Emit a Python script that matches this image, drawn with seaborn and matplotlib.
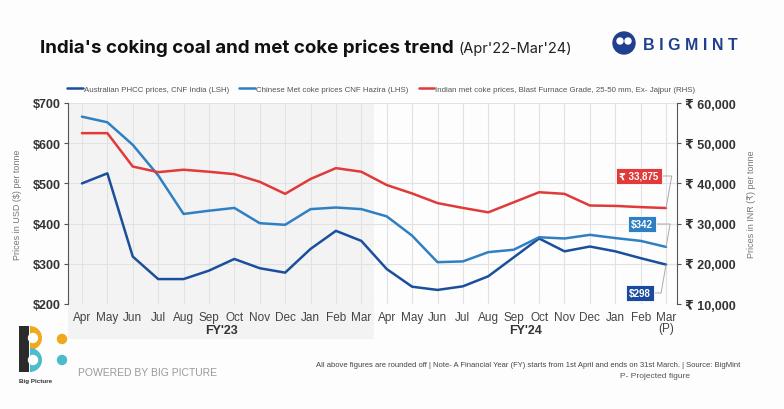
import matplotlib
matplotlib.use("Agg")
import matplotlib.pyplot as plt
import seaborn as sns
import pandas as pd
from matplotlib.patches import Rectangle, Circle, Wedge

months = ["Apr", "May", "Jun", "Jul", "Aug", "Sep", "Oct", "Nov", "Dec", "Jan", "Feb", "Mar"] * 2
month_labels = months[:-1] + ["Mar\n(P)"]

# USD per tonne (left axis)
aus_phcc = [500, 525, 318, 262, 262, 283, 312, 289, 278, 337, 382, 357,
            287, 243, 235, 244, 269, 316, 363, 331, 343, 331, 314, 298]
china_coke = [666, 652, 596, 520, 424, 432, 439, 401, 397, 436, 440, 436,
              418, 370, 304, 306, 329, 335, 366, 363, 372, 364, 357, 342]
# INR per tonne (right axis)
india_coke = [52500, 52500, 44200, 42800, 43400, 42900, 42300, 40400, 37400, 41100, 43800, 42900,
              39600, 37500, 35100, 33900, 32800, 35300, 37800, 37400, 34500, 34400, 34100, 33875]

c_aus = "#1b4f9c"
c_chn = "#2f80c3"
c_ind = "#e03a3a"

df = pd.DataFrame({"idx": range(24), "aus": aus_phcc, "chn": china_coke, "ind": india_coke})

sns.set_style("white")
plt.rcParams["font.family"] = ["Liberation Sans", "DejaVu Sans"]

W, H = 784, 410
fig = plt.figure(figsize=(W / 100, H / 100), dpi=100)
fig.patch.set_facecolor("#fdfdfd")

def fx(px):
    return px / W

def fy(py):
    return 1 - py / H

# overlay in pixel units (for shading and logos)
ov = fig.add_axes([0, 0, 1, 1], zorder=-5)
ov.set_xlim(0, W)
ov.set_ylim(H, 0)
ov.axis("off")
ov.add_patch(Rectangle((68, 104), 374 - 68, 340 - 104, color="#f3f3f3", lw=0))

ax = fig.add_axes([fx(68), fy(305), fx(677) - fx(68), fy(104) - fy(305)])
ax.patch.set_alpha(0)
ax2 = ax.twinx()
ax2.patch.set_alpha(0)

sns.lineplot(data=df, x="idx", y="aus", ax=ax, color=c_aus, lw=1.8, label="Australian PHCC prices, CNF India (LSH)", legend=False)
sns.lineplot(data=df, x="idx", y="chn", ax=ax, color=c_chn, lw=1.8, label="Chinese Met coke prices CNF Hazira (LHS)", legend=False)
sns.lineplot(data=df, x="idx", y="ind", ax=ax2, color=c_ind, lw=1.8, label="Indian met coke prices, Blast Furnace Grade, 25-50 mm, Ex- Jajpur (RHS)", legend=False)

ax.set_xlim(-0.55, 23.43)
ax.set_ylim(200, 700)
ax2.set_ylim(10000, 60000)

ax.set_yticks(range(200, 701, 100))
ax.set_yticklabels([f"${v}" for v in range(200, 701, 100)], fontsize=9, fontweight="bold", color="#333333")
ax2.set_yticks(range(10000, 60001, 10000))
ax2.set_yticklabels([f"₹ {v:,}" for v in range(10000, 60001, 10000)], fontsize=9, fontweight="bold", color="#333333")
ax.set_xticks(range(24))
ax.set_xticklabels(month_labels, fontsize=8.5, color="#444444", linespacing=0.95)
ax.tick_params(axis="x", length=0, pad=5)
ax.tick_params(axis="y", length=3, color="#555555", pad=2)
ax2.tick_params(axis="y", length=3, color="#555555", pad=3)

ax.grid(True, color="#e2e2e2", lw=0.8)
ax.set_axisbelow(True)
ax.set_xlabel("")
ax.set_ylabel("Prices in USD ($) per tonne", fontsize=6.5, color="#777777", labelpad=8)
ax2.set_ylabel("Prices in INR (₹) per tonne", fontsize=6.5, color="#777777", labelpad=8)

for a in (ax, ax2):
    for s in ["top", "bottom"]:
        a.spines[s].set_visible(False)
ax.spines["right"].set_visible(False)
ax.spines["left"].set_color("#555555")
ax2.spines["left"].set_visible(False)
ax2.spines["right"].set_color("#555555")

# FY labels
fig.text((fx(68) + fx(374)) / 2, fy(331), "FY'23", ha="center", va="center", fontsize=9, fontweight="bold", color="#333333")
fig.text((fx(374) + fx(677)) / 2, fy(331), "FY'24", ha="center", va="center", fontsize=9, fontweight="bold", color="#333333")

# end-point callouts
def callout(axis, y, text, color, box_xy):
    axis.annotate(text, xy=(23, y), xycoords="data", xytext=box_xy, textcoords="figure pixels",
                  ha="center", va="center", fontsize=7, fontweight="bold", color="white",
                  bbox=dict(boxstyle="square,pad=0.3", fc=color, ec="white", lw=0.6),
                  arrowprops=dict(arrowstyle="-", color="#aaaaaa", lw=0.7, shrinkA=0, shrinkB=0,
                                  connectionstyle="angle,angleA=0,angleB=80,rad=0"))

callout(ax2, india_coke[-1], f"₹ {india_coke[-1]:,}", c_ind, (639, H - 177))
callout(ax, china_coke[-1], f"${china_coke[-1]}", c_chn, (642, H - 225))
callout(ax, aus_phcc[-1], f"${aus_phcc[-1]}", "#1a4aa0", (640, H - 294))

# legend
h1, l1 = ax.get_legend_handles_labels()
h2, l2 = ax2.get_legend_handles_labels()
leg = fig.legend(h1 + h2, l1 + l2, loc="center left", bbox_to_anchor=(fx(60), fy(90)), ncol=3,
                 frameon=False, fontsize=5.7, handlelength=2.0, handletextpad=0.1, columnspacing=1.3)
for t in leg.get_texts():
    t.set_color("#555555")

# title
t1 = fig.text(fx(40), fy(48), "India's coking coal and met coke prices trend", fontsize=13.5,
              fontweight="bold", color="#111111", va="center", family=["Inter", "DejaVu Sans"])
fig.canvas.draw()
bb = t1.get_window_extent()
fig.text((bb.x1 + 5) / W, fy(49), "(Apr'22-Mar'24)", fontsize=10.5, color="#222222", va="center",
         family=["Inter", "DejaVu Sans"])

# BigMint logo
ov.add_patch(Circle((624, 44), 11, color="#1f3f8f"))
ov.add_patch(Circle((620, 42), 3, color="white"))
ov.add_patch(Circle((628, 42), 3, color="white"))
fig.text(fx(643), fy(45), "B I G M I N T", fontsize=11.5, fontweight="bold", color="#1f3f8f", va="center")

# Big Picture logo
ov.add_patch(Rectangle((19, 327), 10, 46, color="#2b2b2b", lw=0))
ov.add_patch(Wedge((30, 339), 12, -90, 90, color="#f0a81c", lw=0))
ov.add_patch(Wedge((30, 361), 12, -90, 90, color="#4bbcca", lw=0))
ov.add_patch(Circle((33, 339), 4.5, color="white"))
ov.add_patch(Circle((33, 361), 4.5, color="white"))
ov.add_patch(Circle((62, 340), 4.5, color="#f0a81c"))
ov.add_patch(Circle((62, 361), 4.5, color="#4bbcca"))
fig.text(fx(19), fy(382), "Big Picture", fontsize=4.5, fontweight="bold", color="#333333", va="center")
fig.text(fx(78), fy(373), "POWERED BY BIG PICTURE", fontsize=7.5, color="#9a9a9a", va="center")

# footer
fig.text(fx(740), fy(366), "All above figures are rounded off | Note- A Financial Year (FY) starts from 1st April and ends on 31st March. | Source: BigMint",
         fontsize=5.5, color="#444444", ha="right", va="center")
fig.text(fx(655), fy(377), "P- Projected figure", fontsize=6, color="#555555", ha="center", va="center")

fig.savefig("out.png", dpi=100, facecolor=fig.get_facecolor())
